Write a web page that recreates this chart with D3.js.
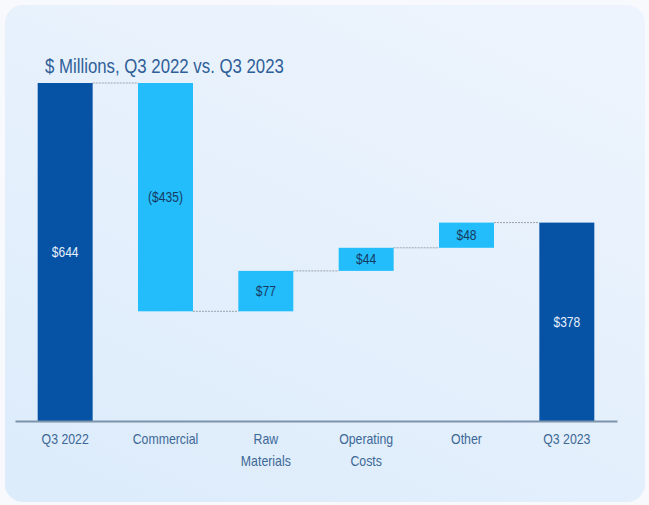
<!DOCTYPE html>
<html>
<head>
<meta charset="utf-8">
<script src="https://cdn.jsdelivr.net/npm/d3@7"></script>
<style>
  html, body { margin: 0; padding: 0; background: #f7f9fc; }
  svg { display: block; }
  text { font-family: "Liberation Sans Narrow", "Arial Narrow", "Liberation Sans", Arial, sans-serif; }
</style>
</head>
<body>
<script>
// ---- data ----
const categories = ["Q3 2022", "Commercial", "Raw Materials", "Operating Costs", "Other", "Q3 2023"];
const categoryLines = [["Q3 2022"], ["Commercial"], ["Raw", "Materials"], ["Operating", "Costs"], ["Other"], ["Q3 2023"]];
const deltas = [644, -435, 77, 44, 48, 378];
const kinds = ["total", "delta", "delta", "delta", "delta", "total"];
const valueLabels = ["$644", "($435)", "$77", "$44", "$48", "$378"];
const title = "$ Millions, Q3 2022 vs. Q3 2023";

// ---- build waterfall steps ----
let running = 0;
const steps = categories.map((c, i) => {
  let start, end;
  if (kinds[i] === "total") { start = 0; end = deltas[i]; running = deltas[i]; }
  else { start = running; end = running + deltas[i]; running = end; }
  return { cat: c, lines: categoryLines[i], start, end, kind: kinds[i], label: valueLabels[i] };
});

const W = 649, H = 505;
const svg = d3.select("body").append("svg").attr("width", W).attr("height", H);

const defs = svg.append("defs");
const grad = defs.append("linearGradient").attr("id", "cardGrad")
  .attr("x1", "0.8").attr("y1", "0").attr("x2", "0.2").attr("y2", "1");
grad.append("stop").attr("offset", "0").attr("stop-color", "#edf4fd");
grad.append("stop").attr("offset", "1").attr("stop-color", "#ddecfb");

svg.append("rect").attr("x", 5).attr("y", 5).attr("width", 640).attr("height", 497)
  .attr("rx", 18).attr("fill", "url(#cardGrad)");

const x = d3.scaleBand().domain(categories).range([15, 617]).paddingInner(0.452).paddingOuter(0.226);
const y = d3.scaleLinear().domain([0, d3.max(steps, d => Math.max(d.start, d.end))]).range([421, 83]);

svg.append("text").attr("transform", "translate(45,73) scale(0.8,1)")
  .attr("font-size", 21).attr("fill", "#2f5f98").text(title);

// connectors
const conn = svg.append("g");
steps.slice(0, -1).forEach((d, i) => {
  const nx = steps[i + 1];
  conn.append("line")
    .attr("x1", x(d.cat) + x.bandwidth()).attr("x2", x(nx.cat))
    .attr("y1", y(d.end)).attr("y2", y(d.end))
    .attr("stroke", "#9aa3ad").attr("stroke-width", 1).attr("stroke-dasharray", "2,1");
});

// bars
svg.append("g").selectAll("rect").data(steps).join("rect")
  .attr("x", d => x(d.cat))
  .attr("width", x.bandwidth())
  .attr("y", d => y(Math.max(d.start, d.end)))
  .attr("height", d => Math.abs(y(d.start) - y(d.end)))
  .attr("fill", d => d.kind === "total" ? "#0653a6" : "#22bdfa");

// value labels
svg.append("g").selectAll("text").data(steps).join("text")
  .attr("transform", d => `translate(${x(d.cat) + x.bandwidth() / 2},${(y(d.start) + y(d.end)) / 2 + 5}) scale(0.86,1)`)
  .attr("text-anchor", "middle")
  .attr("font-size", 14)
  .attr("fill", d => d.kind === "total" ? "#e6f0fb" : "#173a63")
  .text(d => d.label);

// axis
const axis = d3.axisBottom(x).tickSize(0).tickPadding(0).tickFormat(() => "");
const ag = svg.append("g").attr("transform", `translate(0,421)`).call(axis);
ag.select(".domain").attr("stroke", "#7d93aa").attr("stroke-width", 2);

ag.selectAll(".tick").each(function(c, i) {
  const t = d3.select(this).select("text").text(null)
    .attr("font-size", 14).attr("fill", "#3d6896").attr("y", null).attr("dy", null)
    .attr("transform", "translate(0,23) scale(0.88,1)");
  categoryLines[i].forEach((ln, j) => {
    t.append("tspan").attr("x", 0).attr("y", j * 22).text(ln);
  });
});
ag.selectAll("text").attr("font-family", null);
</script>
</body>
</html>
